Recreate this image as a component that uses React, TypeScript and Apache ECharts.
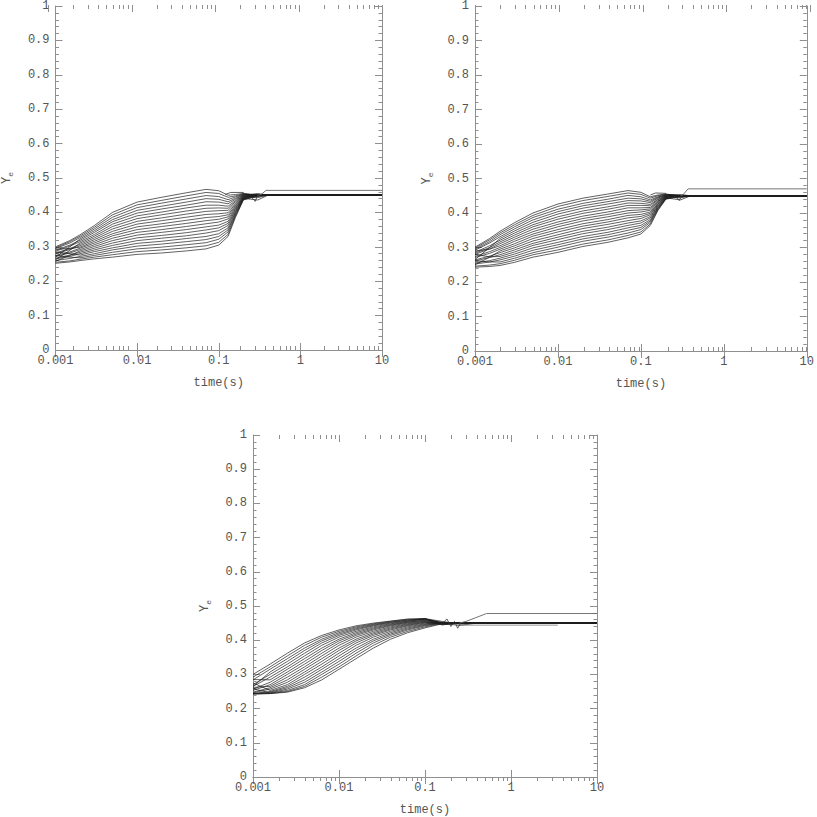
import React, { useEffect, useRef } from 'react';
import * as echarts from 'echarts';

// ---------- data ----------
const xTickLabels = ['0.001', '0.01', '0.1', '1', '10'];
const xMajorTickValues = [0.001, 0.01, 0.1, 1, 10];
const xMinorTickValues = [
  0.002, 0.003, 0.004, 0.005, 0.006, 0.007, 0.008, 0.009,
  0.02, 0.03, 0.04, 0.05, 0.06, 0.07, 0.08, 0.09,
  0.2, 0.3, 0.4, 0.5, 0.6, 0.7, 0.8, 0.9,
  2, 3, 4, 5, 6, 7, 8, 9,
];

// Panel 1 (top left)
const panel1Times = [0.001, 0.0015, 0.002, 0.003, 0.005, 0.01, 0.02, 0.04, 0.07, 0.1, 0.13, 0.16, 0.2, 0.3, 0.4, 10];
const panel1Curves = [
  [0.300, 0.318, 0.335, 0.362, 0.400, 0.430, 0.444, 0.457, 0.467, 0.463, 0.450, 0.452, 0.455, 0.450, 0.450, 0.450],
  [0.297, 0.315, 0.331, 0.357, 0.393, 0.422, 0.435, 0.448, 0.458, 0.455, 0.444, 0.448, 0.454, 0.450, 0.450, 0.450],
  [0.295, 0.311, 0.327, 0.352, 0.386, 0.414, 0.427, 0.439, 0.449, 0.446, 0.437, 0.445, 0.453, 0.452, 0.450, 0.450],
  [0.270, 0.300, 0.323, 0.347, 0.379, 0.406, 0.418, 0.430, 0.440, 0.438, 0.431, 0.441, 0.452, 0.450, 0.450, 0.450],
  [0.290, 0.305, 0.319, 0.342, 0.373, 0.398, 0.410, 0.421, 0.431, 0.430, 0.425, 0.438, 0.451, 0.448, 0.450, 0.450],
  [0.287, 0.302, 0.315, 0.336, 0.366, 0.390, 0.401, 0.413, 0.421, 0.421, 0.418, 0.434, 0.450, 0.450, 0.450, 0.450],
  [0.262, 0.290, 0.311, 0.331, 0.359, 0.382, 0.393, 0.404, 0.412, 0.413, 0.412, 0.431, 0.449, 0.455, 0.450, 0.450],
  [0.282, 0.295, 0.307, 0.326, 0.352, 0.374, 0.384, 0.395, 0.403, 0.405, 0.406, 0.427, 0.448, 0.450, 0.450, 0.450],
  [0.280, 0.292, 0.303, 0.321, 0.345, 0.366, 0.376, 0.386, 0.394, 0.396, 0.399, 0.424, 0.447, 0.446, 0.450, 0.450],
  [0.293, 0.295, 0.299, 0.316, 0.338, 0.358, 0.367, 0.377, 0.385, 0.388, 0.393, 0.420, 0.446, 0.450, 0.450, 0.450],
  [0.275, 0.285, 0.296, 0.311, 0.332, 0.350, 0.359, 0.368, 0.376, 0.380, 0.387, 0.417, 0.445, 0.450, 0.450, 0.450],
  [0.272, 0.282, 0.292, 0.306, 0.325, 0.342, 0.350, 0.359, 0.367, 0.372, 0.381, 0.413, 0.444, 0.443, 0.450, 0.450],
  [0.258, 0.275, 0.288, 0.301, 0.318, 0.334, 0.342, 0.350, 0.358, 0.363, 0.374, 0.410, 0.443, 0.450, 0.450, 0.450],
  [0.267, 0.276, 0.284, 0.296, 0.311, 0.326, 0.333, 0.341, 0.349, 0.355, 0.368, 0.406, 0.442, 0.450, 0.450, 0.450],
  [0.265, 0.272, 0.280, 0.291, 0.304, 0.318, 0.325, 0.332, 0.340, 0.347, 0.362, 0.403, 0.441, 0.436, 0.450, 0.450],
  [0.285, 0.280, 0.276, 0.286, 0.297, 0.310, 0.316, 0.324, 0.330, 0.338, 0.355, 0.399, 0.440, 0.450, 0.450, 0.450],
  [0.260, 0.266, 0.272, 0.280, 0.291, 0.302, 0.308, 0.315, 0.321, 0.330, 0.349, 0.396, 0.439, 0.450, 0.450, 0.450],
  [0.275, 0.270, 0.268, 0.275, 0.284, 0.294, 0.299, 0.306, 0.312, 0.322, 0.343, 0.392, 0.438, 0.448, 0.450, 0.450],
  [0.255, 0.259, 0.264, 0.270, 0.277, 0.286, 0.291, 0.297, 0.303, 0.313, 0.336, 0.389, 0.437, 0.450, 0.450, 0.450],
  [0.252, 0.256, 0.260, 0.265, 0.270, 0.278, 0.282, 0.288, 0.294, 0.305, 0.330, 0.385, 0.436, 0.448, 0.450, 0.450],
];
const panel1TailTimes = [0.3, 0.33, 0.38, 10];
const panel1TailValues = [0.450, 0.452, 0.464, 0.464];
const panel1WiggleTimes = [0.12, 0.14, 0.2, 0.22, 0.25, 0.28, 0.3];
const panel1WiggleValues = [0.452, 0.458, 0.458, 0.440, 0.445, 0.432, 0.450];

// Panel 2 (top right)
const panel2Times = [0.001, 0.0015, 0.002, 0.003, 0.005, 0.01, 0.02, 0.04, 0.07, 0.1, 0.13, 0.16, 0.2, 0.3, 0.4, 10];
const panel2Curves = [
  [0.301, 0.326, 0.347, 0.372, 0.400, 0.426, 0.443, 0.455, 0.465, 0.460, 0.447, 0.452, 0.455, 0.450, 0.450, 0.450],
  [0.298, 0.322, 0.342, 0.366, 0.393, 0.419, 0.436, 0.448, 0.458, 0.454, 0.443, 0.450, 0.454, 0.450, 0.450, 0.450],
  [0.295, 0.317, 0.337, 0.360, 0.387, 0.411, 0.428, 0.440, 0.451, 0.447, 0.438, 0.447, 0.453, 0.452, 0.450, 0.450],
  [0.292, 0.313, 0.331, 0.354, 0.380, 0.404, 0.421, 0.433, 0.443, 0.441, 0.434, 0.445, 0.453, 0.450, 0.450, 0.450],
  [0.265, 0.300, 0.326, 0.348, 0.373, 0.397, 0.414, 0.426, 0.436, 0.435, 0.430, 0.443, 0.452, 0.448, 0.450, 0.450],
  [0.286, 0.305, 0.321, 0.342, 0.366, 0.389, 0.406, 0.418, 0.429, 0.428, 0.425, 0.440, 0.451, 0.450, 0.450, 0.450],
  [0.283, 0.300, 0.316, 0.336, 0.360, 0.382, 0.399, 0.411, 0.422, 0.422, 0.421, 0.438, 0.450, 0.453, 0.450, 0.450],
  [0.280, 0.296, 0.311, 0.330, 0.353, 0.374, 0.391, 0.403, 0.415, 0.415, 0.416, 0.435, 0.449, 0.450, 0.450, 0.450],
  [0.290, 0.295, 0.305, 0.324, 0.346, 0.367, 0.384, 0.396, 0.407, 0.409, 0.412, 0.433, 0.449, 0.446, 0.450, 0.450],
  [0.274, 0.288, 0.300, 0.318, 0.339, 0.360, 0.377, 0.389, 0.400, 0.403, 0.408, 0.431, 0.448, 0.450, 0.450, 0.450],
  [0.271, 0.283, 0.295, 0.311, 0.333, 0.352, 0.369, 0.381, 0.393, 0.396, 0.403, 0.428, 0.447, 0.450, 0.450, 0.450],
  [0.250, 0.272, 0.290, 0.305, 0.326, 0.345, 0.362, 0.374, 0.386, 0.390, 0.399, 0.426, 0.446, 0.444, 0.450, 0.450],
  [0.264, 0.275, 0.285, 0.299, 0.319, 0.337, 0.355, 0.367, 0.378, 0.384, 0.395, 0.424, 0.446, 0.450, 0.450, 0.450],
  [0.261, 0.271, 0.279, 0.293, 0.312, 0.330, 0.347, 0.359, 0.371, 0.377, 0.390, 0.421, 0.445, 0.450, 0.450, 0.450],
  [0.280, 0.273, 0.274, 0.287, 0.306, 0.323, 0.340, 0.352, 0.364, 0.371, 0.386, 0.419, 0.444, 0.438, 0.450, 0.450],
  [0.255, 0.262, 0.269, 0.281, 0.299, 0.315, 0.332, 0.344, 0.357, 0.364, 0.381, 0.416, 0.443, 0.450, 0.450, 0.450],
  [0.252, 0.258, 0.264, 0.275, 0.292, 0.308, 0.325, 0.337, 0.350, 0.358, 0.377, 0.414, 0.442, 0.450, 0.450, 0.450],
  [0.262, 0.258, 0.258, 0.269, 0.285, 0.301, 0.318, 0.330, 0.342, 0.352, 0.373, 0.412, 0.442, 0.448, 0.450, 0.450],
  [0.246, 0.249, 0.253, 0.263, 0.279, 0.293, 0.310, 0.322, 0.335, 0.345, 0.368, 0.409, 0.441, 0.450, 0.450, 0.450],
  [0.243, 0.245, 0.248, 0.257, 0.272, 0.286, 0.303, 0.315, 0.328, 0.339, 0.364, 0.407, 0.440, 0.448, 0.450, 0.450],
];
const panel2TailTimes = [0.3, 0.32, 0.37, 10];
const panel2TailValues = [0.450, 0.452, 0.470, 0.470];
const panel2WiggleTimes = [0.13, 0.15, 0.2, 0.22, 0.26, 0.29, 0.31];
const panel2WiggleValues = [0.452, 0.458, 0.457, 0.442, 0.448, 0.436, 0.450];

// Panel 3 (bottom centre)
const panel3Times = [0.001, 0.00158, 0.00251, 0.00398, 0.00631, 0.01, 0.0158, 0.0251, 0.0398, 0.0631, 0.1, 0.158, 0.251, 0.4, 10];
const panel3Curves = [
  [0.300, 0.330, 0.362, 0.392, 0.414, 0.430, 0.442, 0.450, 0.456, 0.462, 0.462, 0.452, 0.450, 0.450, 0.450],
  [0.292, 0.322, 0.354, 0.385, 0.409, 0.426, 0.439, 0.448, 0.455, 0.461, 0.463, 0.448, 0.450, 0.450, 0.450],
  [0.284, 0.315, 0.346, 0.377, 0.403, 0.422, 0.436, 0.446, 0.453, 0.459, 0.463, 0.455, 0.447, 0.450, 0.450],
  [0.265, 0.307, 0.338, 0.370, 0.398, 0.418, 0.433, 0.444, 0.452, 0.458, 0.463, 0.450, 0.450, 0.450, 0.450],
  [0.270, 0.300, 0.330, 0.362, 0.392, 0.414, 0.430, 0.442, 0.450, 0.456, 0.462, 0.445, 0.450, 0.450, 0.450],
  [0.265, 0.292, 0.322, 0.354, 0.385, 0.409, 0.426, 0.439, 0.448, 0.455, 0.461, 0.450, 0.443, 0.450, 0.450],
  [0.285, 0.284, 0.315, 0.346, 0.377, 0.403, 0.422, 0.436, 0.446, 0.453, 0.459, 0.452, 0.450, 0.450, 0.450],
  [0.257, 0.277, 0.307, 0.338, 0.370, 0.398, 0.418, 0.433, 0.444, 0.452, 0.458, 0.448, 0.450, 0.450, 0.450],
  [0.253, 0.270, 0.300, 0.330, 0.362, 0.392, 0.414, 0.430, 0.442, 0.450, 0.456, 0.450, 0.452, 0.450, 0.450],
  [0.262, 0.265, 0.292, 0.322, 0.354, 0.385, 0.409, 0.426, 0.439, 0.448, 0.455, 0.445, 0.450, 0.450, 0.450],
  [0.248, 0.261, 0.284, 0.315, 0.346, 0.377, 0.403, 0.422, 0.436, 0.446, 0.453, 0.450, 0.450, 0.450, 0.450],
  [0.246, 0.257, 0.277, 0.307, 0.338, 0.370, 0.398, 0.418, 0.433, 0.444, 0.452, 0.447, 0.450, 0.450, 0.450],
  [0.275, 0.253, 0.270, 0.300, 0.330, 0.362, 0.392, 0.414, 0.430, 0.442, 0.450, 0.450, 0.450, 0.450, 0.450],
  [0.244, 0.250, 0.265, 0.292, 0.322, 0.354, 0.385, 0.409, 0.426, 0.439, 0.448, 0.452, 0.450, 0.450, 0.450],
  [0.244, 0.248, 0.261, 0.284, 0.315, 0.346, 0.377, 0.403, 0.422, 0.436, 0.446, 0.450, 0.450, 0.450, 0.450],
  [0.258, 0.246, 0.257, 0.277, 0.307, 0.338, 0.370, 0.398, 0.418, 0.433, 0.444, 0.450, 0.450, 0.450, 0.450],
  [0.243, 0.245, 0.253, 0.270, 0.300, 0.330, 0.362, 0.392, 0.414, 0.430, 0.442, 0.450, 0.450, 0.450, 0.450],
  [0.243, 0.244, 0.250, 0.265, 0.292, 0.322, 0.354, 0.385, 0.409, 0.426, 0.439, 0.449, 0.450, 0.450, 0.450],
  [0.243, 0.244, 0.248, 0.261, 0.284, 0.315, 0.346, 0.377, 0.403, 0.422, 0.436, 0.448, 0.450, 0.450, 0.450],
];
const panel3TailTimes = [0.25, 0.3, 0.52, 10];
const panel3TailValues = [0.450, 0.455, 0.478, 0.478];
const panel3LowTimes = [0.25, 3.5];
const panel3LowValues = [0.444, 0.444];
const panel3WiggleTimes = [0.16, 0.18, 0.2, 0.22, 0.24, 0.26];
const panel3WiggleValues = [0.450, 0.462, 0.440, 0.455, 0.435, 0.450];

// ---------- styling ----------
const AXIS_COLOR = '#8f8f8f';
const TEXT_COLOR = '#555';
const FONT = '"Liberation Mono", "DejaVu Sans Mono", monospace';
const CURVE_COLOR = '#1e1e1e';
const X_MIN = 0.001;
const X_MAX = 10;

const grids = [
  { left: 48, top: 5, width: 334, height: 345 },
  { left: 475, top: 5, width: 335, height: 346 },
  { left: 253, top: 435, width: 344, height: 346 },
];

// tick marks for the log axes (major on the top edge, minor 2..9 on both edges)
function buildTickGraphics() {
  const els: any[] = [];
  const pos = (gr: any, v: number) =>
    gr.left + (gr.width * (Math.log10(v) - Math.log10(X_MIN))) / (Math.log10(X_MAX) - Math.log10(X_MIN));
  grids.forEach((gr) => {
    const yb = gr.top + gr.height;
    const yt = gr.top;
    const add = (v: number, len: number, bottom: boolean) => {
      const x = Math.round(pos(gr, v)) + 0.5;
      els.push({
        type: 'line', silent: true, zlevel: 1, z: 10,
        shape: { x1: x, y1: yt, x2: x, y2: yt + len },
        style: { stroke: AXIS_COLOR, lineWidth: 1 },
      });
      if (bottom) {
        els.push({
          type: 'line', silent: true, zlevel: 1, z: 10,
          shape: { x1: x, y1: yb, x2: x, y2: yb - len },
          style: { stroke: AXIS_COLOR, lineWidth: 1 },
        });
      }
    };
    xMinorTickValues.forEach((v) => add(v, 4, true));
    xMajorTickValues.forEach((v) => add(v, 7, false));
  });
  return els;
}

function buildOption() {
  const xAxes: any[] = [];
  const yAxes: any[] = [];
  const series: any[] = [];

  grids.forEach((_, g) => {
    const common = {
      gridIndex: g,
      type: 'log',
      min: X_MIN,
      max: X_MAX,
      axisLine: { show: true, lineStyle: { color: AXIS_COLOR, width: 1 } },
      axisTick: { show: true, inside: true, length: 7, lineStyle: { color: AXIS_COLOR } },
      splitLine: { show: false },
    };
    xAxes.push({
      ...common,
      position: 'bottom',
      name: 'time(s)',
      nameLocation: 'middle',
      nameGap: 27,
      nameTextStyle: { color: TEXT_COLOR, fontFamily: FONT, fontSize: 12 },
      axisLabel: {
        show: true,
        margin: 5,
        color: TEXT_COLOR,
        fontFamily: FONT,
        fontSize: 12,
        formatter: (v: number) => {
          const idx = Math.round(Math.log10(v) + 3);
          return xTickLabels[idx] ?? String(v);
        },
      },
    });
    xAxes.push({ ...common, position: 'top', axisLabel: { show: false } });

    const ycommon = {
      gridIndex: g,
      type: 'value',
      min: 0,
      max: 1,
      interval: 0.1,
      axisLine: { show: true, lineStyle: { color: AXIS_COLOR, width: 1 } },
      axisTick: { show: true, inside: true, length: 7, lineStyle: { color: AXIS_COLOR } },
      minorTick: { show: true, splitNumber: 5, length: 3.5, lineStyle: { color: AXIS_COLOR } },
      splitLine: { show: false },
    };
    yAxes.push({
      ...ycommon,
      position: 'left',
      name: '{a|Y}{b|e}',
      nameLocation: 'middle',
      nameGap: 41,
      nameTextStyle: {
        color: TEXT_COLOR,
        fontFamily: FONT,
        rich: {
          a: { fontSize: 12, color: TEXT_COLOR, fontFamily: FONT },
          b: { fontSize: 8, color: TEXT_COLOR, fontFamily: FONT, padding: [7, 0, 0, 0] },
        },
      },
      axisLabel: { show: true, margin: 6, color: TEXT_COLOR, fontFamily: FONT, fontSize: 12 },
    });
    yAxes.push({ ...ycommon, position: 'right', axisLabel: { show: false } });
  });

  const addLine = (g: number, times: number[], values: number[], color: string, width: number) => {
    series.push({
      type: 'line',
      xAxisIndex: 2 * g,
      yAxisIndex: 2 * g,
      data: times.map((t, i) => [t, values[i]]),
      symbol: 'none',
      lineStyle: { color, width },
    });
  };

  const panels = [
    { times: panel1Times, curves: panel1Curves },
    { times: panel2Times, curves: panel2Curves },
    { times: panel3Times, curves: panel3Curves },
  ];
  panels.forEach((p, g) => {
    p.curves.forEach((row) => addLine(g, p.times, row, CURVE_COLOR, 0.7));
  });
  addLine(0, panel1TailTimes, panel1TailValues, '#666', 0.9);
  addLine(0, panel1WiggleTimes, panel1WiggleValues, '#333', 0.8);
  addLine(1, panel2TailTimes, panel2TailValues, '#666', 0.9);
  addLine(1, panel2WiggleTimes, panel2WiggleValues, '#333', 0.8);
  addLine(2, panel3TailTimes, panel3TailValues, '#666', 0.9);
  addLine(2, panel3LowTimes, panel3LowValues, '#888', 0.9);
  addLine(2, panel3WiggleTimes, panel3WiggleValues, '#333', 0.8);

  return {
    animation: false,
    backgroundColor: '#ffffff',
    grid: grids,
    xAxis: xAxes,
    yAxis: yAxes,
    graphic: buildTickGraphics(),
    series,
  };
}

export default function App() {
  const ref = useRef<HTMLDivElement>(null);
  useEffect(() => {
    document.body.style.margin = '0';
    if (!ref.current) return;
    const chart = echarts.init(ref.current, undefined, { renderer: 'svg' });
    chart.setOption(buildOption() as any);
    return () => chart.dispose();
  }, []);
  return <div ref={ref} style={{ width: 817, height: 817 }} />;
}
